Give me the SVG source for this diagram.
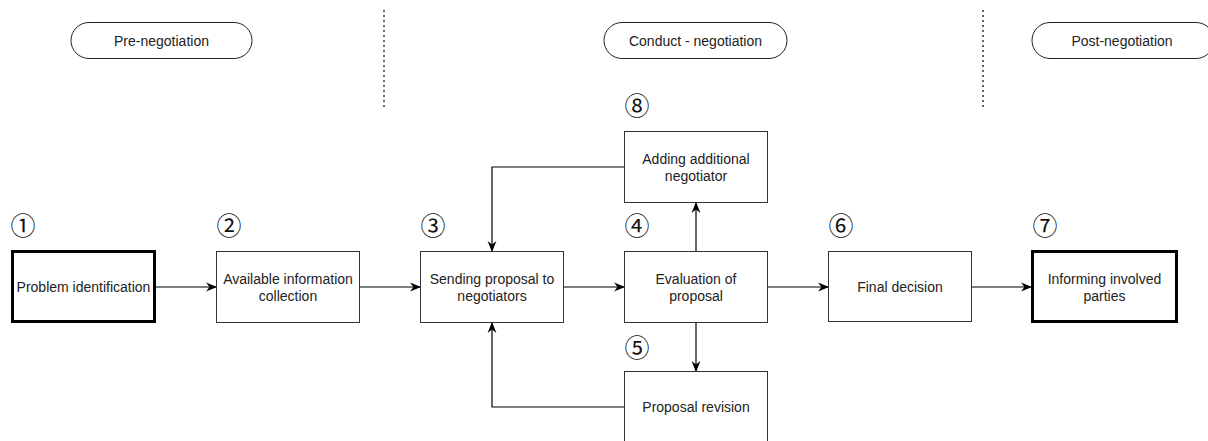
<svg xmlns="http://www.w3.org/2000/svg" width="1208" height="441" viewBox="0 0 1208 441">
<style>
text{font-family:"Liberation Sans",Arial,sans-serif;fill:#222;text-anchor:middle;dominant-baseline:central}
.lbl{font-size:14px}
.num{font-family:"Noto Sans CJK JP","Noto Sans CJK SC",sans-serif;font-size:25px;font-weight:400;fill:#111}
.box{fill:#fff;stroke:#333;stroke-width:1}
.bold{fill:#fff;stroke:#000;stroke-width:3}
.pill{fill:#fff;stroke:#222;stroke-width:1}
.con{fill:none;stroke:#000;stroke-width:1.2;marker-end:url(#ah)}
.sep{stroke:#333;stroke-width:1.5;stroke-dasharray:2 3}
</style>
<defs>
<marker id="ah" viewBox="0 0 10 10" refX="9" refY="5" markerWidth="11" markerHeight="11" markerUnits="userSpaceOnUse" orient="auto">
<path d="M0,1 L10,5 L0,9 L3,5 Z" fill="#000"/>
</marker>
</defs>
<rect width="1208" height="441" fill="#fff"/>
<g id="separators">
<line class="sep" x1="384" y1="10" x2="384" y2="107"/>
<line class="sep" x1="983" y1="10" x2="983" y2="107"/>
</g>
<g id="phase-pre"><rect class="pill" x="71" y="22.5" width="181" height="36" rx="18"/><text class="lbl" x="161.5" y="41">Pre-negotiation</text></g>
<g id="phase-conduct"><rect class="pill" x="604" y="22.5" width="183" height="36" rx="18"/><text class="lbl" x="695.5" y="41">Conduct - negotiation</text></g>
<g id="phase-post"><rect class="pill" x="1032" y="22.5" width="182" height="36" rx="18"/><text class="lbl" x="1122" y="41">Post-negotiation</text></g>
<g id="connectors">
<line class="con" x1="156" y1="287" x2="216" y2="287"/>
<line class="con" x1="360" y1="287" x2="420" y2="287"/>
<line class="con" x1="564" y1="287" x2="624" y2="287"/>
<line class="con" x1="768" y1="287" x2="828" y2="287"/>
<line class="con" x1="972" y1="287" x2="1031" y2="287"/>
<line class="con" x1="696" y1="251" x2="696" y2="203"/>
<polyline class="con" points="624,167 492,167 492,251"/>
<line class="con" x1="696" y1="323" x2="696" y2="371"/>
<polyline class="con" points="624,407 492,407 492,323"/>
</g>
<g id="n1"><text class="num" x="23" y="224">①</text><rect class="bold" x="12.5" y="251.5" width="142" height="70"/><text class="lbl" x="83.5" y="287">Problem identification</text></g>
<g id="n2"><text class="num" x="229" y="224">②</text><rect class="box" x="216.5" y="251.5" width="143" height="71"/><text class="lbl" x="288" y="279">Available information</text><text class="lbl" x="288" y="296">collection</text></g>
<g id="n3"><text class="num" x="433" y="224">③</text><rect class="box" x="420.5" y="251.5" width="143" height="71"/><text class="lbl" x="492" y="279">Sending proposal to</text><text class="lbl" x="492" y="296">negotiators</text></g>
<g id="n4"><text class="num" x="637" y="224">④</text><rect class="box" x="624.5" y="251.5" width="143" height="71"/><text class="lbl" x="696" y="279">Evaluation of</text><text class="lbl" x="696" y="296">proposal</text></g>
<g id="n8"><text class="num" x="637" y="104">⑧</text><rect class="box" x="624.5" y="131.5" width="143" height="71"/><text class="lbl" x="696" y="159">Adding additional</text><text class="lbl" x="696" y="176">negotiator</text></g>
<g id="n5"><text class="num" x="637" y="346">⑤</text><rect class="box" x="624.5" y="371.5" width="143" height="72"/><text class="lbl" x="696" y="407">Proposal revision</text></g>
<g id="n6"><text class="num" x="841" y="224">⑥</text><rect class="box" x="828.5" y="251.5" width="143" height="70"/><text class="lbl" x="900" y="287">Final decision</text></g>
<g id="n7"><text class="num" x="1045" y="224">⑦</text><rect class="bold" x="1032.5" y="251.5" width="144" height="70"/><text class="lbl" x="1104.5" y="279">Informing involved</text><text class="lbl" x="1104.5" y="296">parties</text></g>
</svg>
